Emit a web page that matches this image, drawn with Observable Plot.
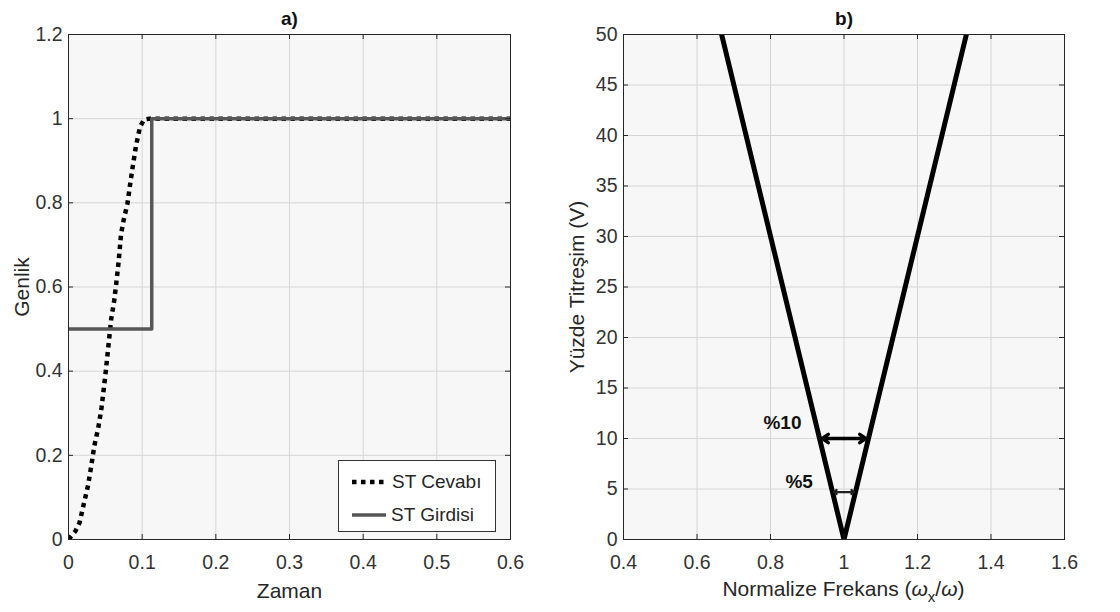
<!DOCTYPE html>
<html>
<head>
<meta charset="utf-8">
<script src="https://cdn.jsdelivr.net/npm/d3@7"></script>
<script src="https://cdn.jsdelivr.net/npm/@observablehq/plot@0.6"></script>
<style>
  html, body { margin: 0; padding: 0; background: #fff; }
  #wrap { position: relative; width: 1120px; height: 612px; font-family: "Liberation Sans", Arial, sans-serif; }
  #left, #right { position: absolute; top: 0; }
  #left { left: 0; }
  #right { left: 560px; }
  .legend { position: absolute; left: 338px; top: 460px; width: 158px; height: 72px; border: 1px solid #333; background: #fff; box-sizing: border-box; }
  .legend .row { position: absolute; left: 0; height: 24px; display: flex; align-items: center; font-size: 19px; color: #262626; }
  .xlab2 { position: absolute; left: 623px; width: 441px; top: 577px; text-align: center; font-size: 21px; color: #262626; }
  .xlab2 sub { font-size: 15px; vertical-align: -6px; line-height: 0; }
</style>
</head>
<body>
<div id="wrap">
  <div id="left"></div>
  <div id="right"></div>
  <div class="legend">
    <div class="row" style="top:9px;left:13px;"><svg width="34" height="8"><line x1="0" y1="4" x2="34" y2="4" stroke="#000" stroke-width="4.5" stroke-dasharray="4.5 4.5"/></svg><span style="margin-left:6px">ST Cevabı</span></div>
    <div class="row" style="top:42px;left:13px;"><svg width="34" height="8"><line x1="0" y1="4" x2="34" y2="4" stroke="#555" stroke-width="3.5"/></svg><span style="margin-left:5px">ST Girdisi</span></div>
  </div>
  <div class="xlab2">Normalize Frekans (<i>ω</i><sub>x</sub>/<i>ω</i>)</div>
</div>
<script>
// ---- Panel a) data ----
const responseT = [0, 0.0094, 0.015, 0.021, 0.0266, 0.031, 0.035, 0.0405, 0.0448, 0.048, 0.051, 0.0537, 0.0579, 0.062, 0.0651, 0.068, 0.0714, 0.075, 0.080, 0.0835, 0.0873, 0.0916, 0.097, 0.1025, 0.110, 0.6];
const responseV = [0, 0.02, 0.04, 0.086, 0.129, 0.176, 0.222, 0.266, 0.313, 0.36, 0.406, 0.452, 0.523, 0.567, 0.613, 0.659, 0.727, 0.76, 0.798, 0.842, 0.887, 0.935, 0.98, 0.998, 1.0, 1.0];
const inputT = [0, 0.113, 0.6];
const inputV = [0.5, 1, 1];
const aXTicks = [0, 0.1, 0.2, 0.3, 0.4, 0.5, 0.6];
const aXLabels = ["0", "0.1", "0.2", "0.3", "0.4", "0.5", "0.6"];
const aYTicks = [0, 0.2, 0.4, 0.6, 0.8, 1, 1.2];
const aYLabels = ["0", "0.2", "0.4", "0.6", "0.8", "1", "1.2"];

// ---- Panel b) data ----
const vFreq = [0.667, 1, 1.333];
const vPct = [50, 0, 50];
const bXTicks = [0.4, 0.6, 0.8, 1, 1.2, 1.4, 1.6];
const bXLabels = ["0.4", "0.6", "0.8", "1", "1.2", "1.4", "1.6"];
const bYTicks = [0, 5, 10, 15, 20, 25, 30, 35, 40, 45, 50];
const arrowFrom = [1, 1, 1, 1];
const arrowTo = [0.941, 1.059, 0.973, 1.027];
const arrowY = [10, 10, 4.7, 4.7];
const arrowKind = ["big", "big", "small", "small"];
const bandLabels = ["%10", "%5"];
const bandLabelX = [0.8325, 0.878];
const bandLabelY = [11.5, 5.75];

const FONT = "Liberation Sans, Arial, sans-serif";
const H = 612, MT = 34, MB = 73;
const plotH = H - MT - MB;

function frameParts(xTicks, yTicks, xLabels, yLabels, title, ylabel, xlabel, ylabDx) {
  const fmtX = d => xLabels[xTicks.indexOf(d)];
  const fmtY = yLabels ? (d => yLabels[yTicks.indexOf(d)]) : (d => String(d));
  const parts = [
    Plot.frame({fill: "#f7f7f7", stroke: null}),
    Plot.gridX(xTicks, {stroke: "#d6d6d6", strokeOpacity: 1, strokeWidth: 1}),
    Plot.gridY(yTicks, {stroke: "#d6d6d6", strokeOpacity: 1, strokeWidth: 1}),
    Plot.axisX(xTicks, {tickSize: 0, tickPadding: 16, tickFormat: fmtX, fontSize: 19.5, fill: "#333", label: null}),
    Plot.axisY(yTicks, {tickSize: 0, tickPadding: 6, tickFormat: fmtY, fontSize: 19.5, fill: "#333", label: null}),
    Plot.text([title], {frameAnchor: "top", dy: -16, lineAnchor: "middle", textAnchor: "middle", fontSize: 19, fontWeight: "bold", fill: "#111"}),
    Plot.text([ylabel], {frameAnchor: "left", dx: ylabDx, rotate: -90, lineAnchor: "middle", textAnchor: "middle", fontSize: 21, fill: "#262626"})
  ];
  if (xlabel) parts.push(Plot.text([xlabel], {frameAnchor: "bottom", dy: 52, lineAnchor: "middle", textAnchor: "middle", fontSize: 21, fill: "#262626"}));
  return parts;
}
function tickParts(xTicks, yTicks, plotW) {
  return [
    Plot.tickX(xTicks, {x: d => d, insetTop: plotH - 5, stroke: "#262626"}),
    Plot.tickX(xTicks, {x: d => d, insetBottom: plotH - 5, stroke: "#262626"}),
    Plot.tickY(yTicks, {y: d => d, insetLeft: plotW - 5, stroke: "#262626"}),
    Plot.tickY(yTicks, {y: d => d, insetRight: plotW - 5, stroke: "#262626"}),
    Plot.frame({stroke: "#262626", strokeWidth: 1})
  ];
}

// ---- Left chart ----
const respData = responseT.map((t, i) => ({t, v: responseV[i]}));
const inData = inputT.map((t, i) => ({t, v: inputV[i]}));
const leftW = 560, leftML = 68, leftMR = 50;
const leftPlotW = leftW - leftML - leftMR;
const left = Plot.plot({
  width: leftW, height: H,
  marginTop: MT, marginBottom: MB, marginLeft: leftML, marginRight: leftMR,
  style: {fontFamily: FONT, background: "transparent", overflow: "visible"},
  x: {domain: [0, 0.6], nice: false},
  y: {domain: [0, 1.2], nice: false},
  marks: [
    ...frameParts(aXTicks, aYTicks, aXLabels, aYLabels, "a)", "Genlik", "Zaman", -46),
    Plot.line(respData, {x: "t", y: "v", stroke: "#000", strokeWidth: 4.5, strokeDasharray: "4.5 4.5", strokeLinecap: "butt", clip: true}),
    Plot.line(inData, {x: "t", y: "v", curve: "step-after", stroke: "#575757", strokeWidth: 3.5, clip: true}),
    ...tickParts(aXTicks, aYTicks, leftPlotW)
  ]
});
document.getElementById("left").appendChild(left);

// ---- Right chart ----
const vData = vFreq.map((f, i) => ({f, p: vPct[i]}));
const arrows = arrowFrom.map((a, i) => ({x1: a, x2: arrowTo[i], y: arrowY[i], kind: arrowKind[i]}));
const bigArrows = arrows.filter(d => d.kind === "big");
const smallArrows = arrows.filter(d => d.kind === "small");
const labelsData = bandLabels.map((s, i) => ({s, x: bandLabelX[i], y: bandLabelY[i]}));
const rightW = 560, rightML = 63, rightMR = 56;
const rightPlotW = rightW - rightML - rightMR;
const right = Plot.plot({
  width: rightW, height: H,
  marginTop: MT, marginBottom: MB, marginLeft: rightML, marginRight: rightMR,
  style: {fontFamily: FONT, background: "transparent", overflow: "visible"},
  x: {domain: [0.4, 1.6], nice: false},
  y: {domain: [0, 50], nice: false},
  marks: [
    ...frameParts(bXTicks, bYTicks, bXLabels, null, "b)", "Yüzde Titreşim (V)", null, -46),
    Plot.line(vData, {x: "f", y: "p", stroke: "#000", strokeWidth: 5, strokeLinejoin: "miter", clip: true}),
    Plot.arrow(bigArrows, {x1: "x1", x2: "x2", y1: "y", y2: "y", stroke: "#000", strokeWidth: 3.5, headLength: 11, headAngle: 70}),
    Plot.arrow(smallArrows, {x1: "x1", x2: "x2", y1: "y", y2: "y", stroke: "#222", strokeWidth: 2.2, headLength: 5, headAngle: 80}),
    Plot.text(labelsData, {x: "x", y: "y", text: "s", fontSize: 19, fontWeight: "bold", fill: "#111"}),
    ...tickParts(bXTicks, bYTicks, rightPlotW)
  ]
});
document.getElementById("right").appendChild(right);
</script>
</body>
</html>
